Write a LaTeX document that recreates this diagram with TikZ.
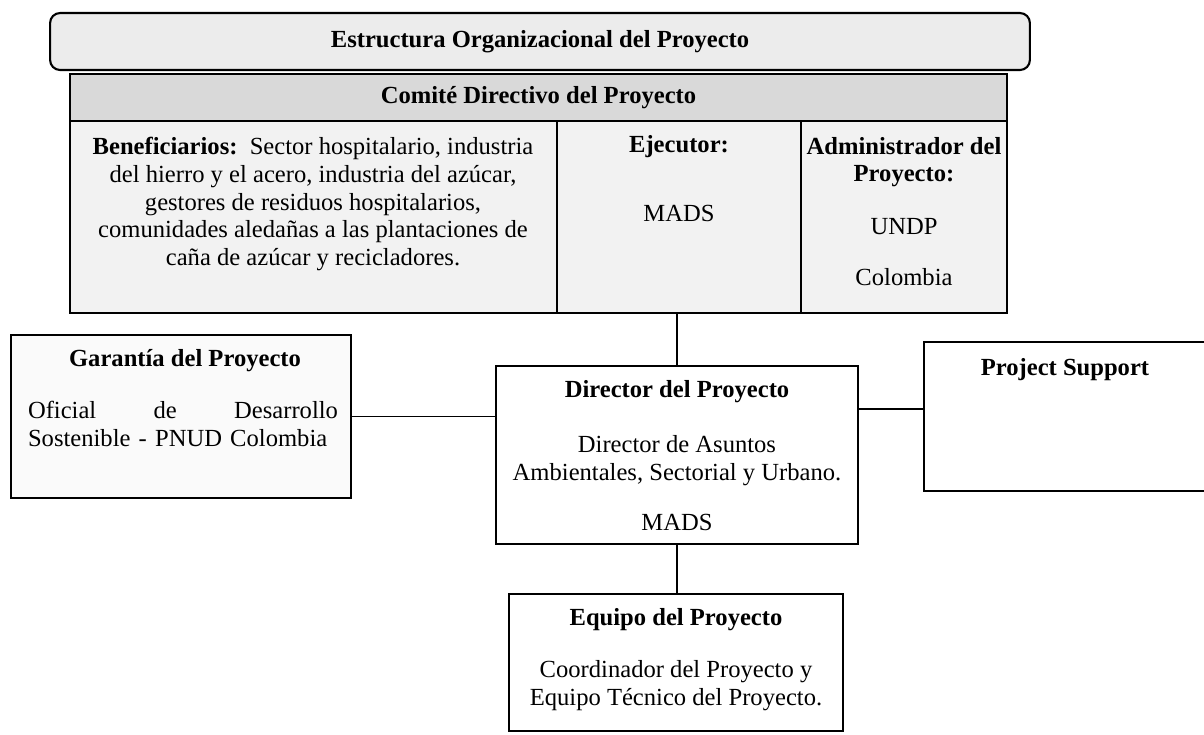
\documentclass[tikz,border=0pt]{standalone}
\usepackage{fontspec}
\setmainfont{Liberation Serif}
\begin{document}
\begin{tikzpicture}[x=0.02cm,y=-0.02cm,
  box/.style={draw,line width=1.2pt,inner sep=0pt},
  con/.style={line width=1.1pt},
  txt/.style={inner sep=0pt,align=center,font=\fontsize{14}{15.5}\selectfont},
  hd/.style={txt,font=\fontsize{14}{15.5}\selectfont\bfseries}]
  \useasboundingbox (0,0) rectangle (1204,734);
  \clip (0,0) rectangle (1204,734);
  % titulo
  \node[box,rounded corners=0.2cm,fill=gray!15,minimum width=19.6cm,
    minimum height=1.14cm,font=\fontsize{14}{15.5}\selectfont\bfseries]
    (tit) at (540,41.5) {Estructura Organizacional del Proyecto};
  % comite directivo
  \node[box,fill=gray!30,minimum width=18.74cm,minimum height=0.94cm,
    font=\fontsize{14}{15.5}\selectfont\bfseries]
    (com) at (538.5,97.5) {Comité Directivo del Proyecto};
  \node[box,fill=gray!10,minimum width=9.74cm,minimum height=3.84cm] (ben) at (313.5,217) {};
  \node[box,fill=gray!10,minimum width=4.88cm,minimum height=3.84cm] (eje) at (679,217) {};
  \node[box,fill=gray!10,minimum width=4.12cm,minimum height=3.84cm] (adm) at (904,217) {};
  \node[txt,font=\fontsize{14}{15.9}\selectfont] (ben-t) at (313,204)
    {\textbf{Beneficiarios:}\ \ Sector hospitalario, industria\\
     del hierro y el acero, industria del azúcar,\\
     gestores de residuos hospitalarios,\\
     comunidades aledañas a las plantaciones de\\
     caña de azúcar y recicladores.};
  \node[hd] (eje-h) at (679,147) {Ejecutor:};
  \node[txt] (eje-t) at (679,213) {MADS};
  \node[hd] (adm-h) at (904,162) {Administrador del\\Proyecto:};
  \node[txt] (adm-t) at (904,227) {UNDP};
  \node[txt] (adm-c) at (904,277) {Colombia};
  % cajas inferiores
  \node[box,fill=gray!4,minimum width=6.8cm,minimum height=3.26cm] (gar) at (181,416.5) {};
  \node[box,fill=white,minimum width=7.24cm,minimum height=3.56cm] (dir) at (677,455) {};
  \node[box,fill=white,minimum width=5.8cm,minimum height=2.98cm] (ps) at (1069,416.5) {};
  \node[box,fill=white,minimum width=6.68cm,minimum height=2.74cm] (equ) at (676,662.5) {};
  \node[hd] (gar-h) at (185,361) {Garantía del Proyecto};
  \node[txt,align=left,text width=6.2cm] (gar-t) at (183,424)
    {\hbox to 6.2cm{Oficial\hfill de\hfill Desarrollo}\\Sostenible - PNUD Colombia};
  \node[hd] (dir-h) at (677,392) {Director del Proyecto};
  \node[txt] (dir-t) at (677,460.5) {Director de Asuntos\\Ambientales, Sectorial y Urbano.};
  \node[txt] (dir-m) at (677,522) {MADS};
  \node[hd] (ps-h) at (1065,370) {Project Support};
  \node[hd] (equ-h) at (676,620) {Equipo del Proyecto};
  \node[txt] (equ-t) at (676,685.5) {Coordinador del Proyecto y\\Equipo Técnico del Proyecto.};
  % conectores
  \draw[con] (dir.north) -- (dir.north |- eje.south);
  \draw[con] (gar.east) -- (gar.east -| dir.west);
  \draw[con] ([yshift=0.15cm]ps.west) -- ([yshift=0.15cm]ps.west -| dir.east);
  \draw[con] (dir.south) -- (dir.south |- equ.north);
\end{tikzpicture}
\end{document}
